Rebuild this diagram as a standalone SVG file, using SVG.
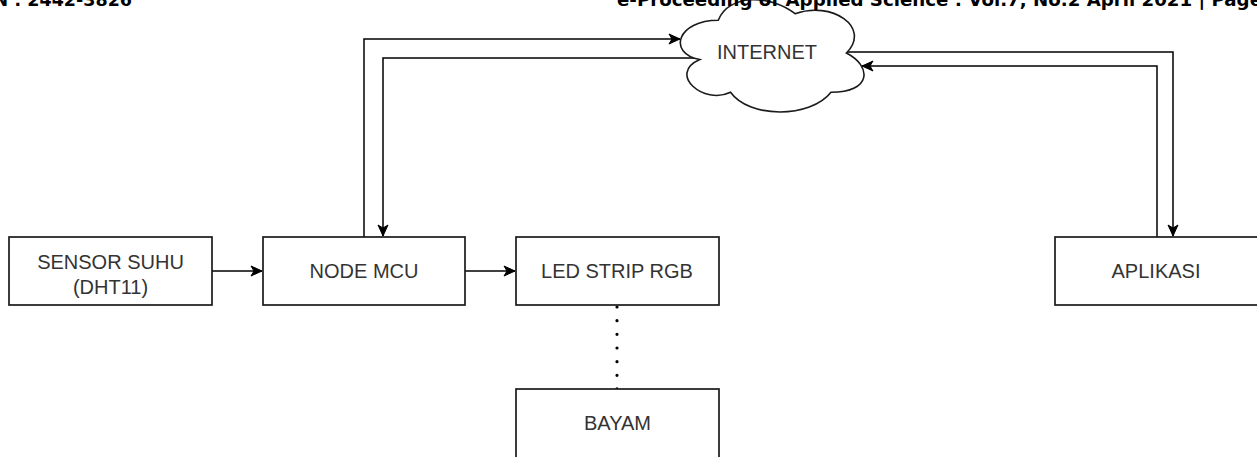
<svg xmlns="http://www.w3.org/2000/svg" width="1257" height="457" viewBox="0 0 1257 457">
<style>
.box{fill:#ffffff;stroke:#1a1a1a;stroke-width:1.7}
.lbl{font-family:"Liberation Sans",Arial,sans-serif;font-size:20px;fill:#333333;text-anchor:middle}
.hdr{font-family:"DejaVu Sans",Verdana,sans-serif;font-weight:bold;font-size:17.5px;fill:#000000}
.con{fill:none;stroke:#000000;stroke-width:1.5}
.dot{fill:none;stroke:#000000;stroke-width:3.2;stroke-linecap:round;stroke-dasharray:0 13.66}
</style>
<defs>
<marker id="arr" viewBox="-12 -6 13 12" refX="0" refY="0" markerWidth="13" markerHeight="12" markerUnits="userSpaceOnUse" orient="auto">
<path d="M0,0 L-11,-5 L-8,0 L-11,5 Z" fill="#000000" stroke="#000000" stroke-width="1"/>
</marker>
</defs>
<rect width="1257" height="457" fill="#ffffff"/>
<g id="connectors">
<path class="con" d="M364,237 V39 H680" marker-end="url(#arr)"/>
<path class="con" d="M700,58 H383 V236" marker-end="url(#arr)"/>
<path class="con" d="M846,52 H1173 V236" marker-end="url(#arr)"/>
<path class="con" d="M1157,237 V66 H862" marker-end="url(#arr)"/>
<path class="con" d="M212,271 H262" marker-end="url(#arr)"/>
<path class="con" d="M465,271 H515" marker-end="url(#arr)"/>
<path class="dot" d="M617,307 V389"/>
</g>
<g id="internet">
<path d="M718.25,20.25 C677.25,20.25 667,53 699.8,59.55 C667,73.96 703.9,105.4 730.55,92.3 C749,118.5 810.5,118.5 831,92.3 C872,92.3 872,66.1 846.4,53 C872,26.8 831,0.6 795.1,13.7 C769.5,-5.95 728.5,-5.95 718.25,20.25 Z" fill="#ffffff" stroke="#1a1a1a" stroke-width="1.6"/>
<text class="lbl" x="767" y="59">INTERNET</text>
</g>
<g id="sensor">
<rect class="box" x="9" y="237" width="203" height="68"/>
<text class="lbl" x="110.5" y="269">SENSOR SUHU</text>
<text class="lbl" x="110.5" y="294">(DHT11)</text>
</g>
<g id="nodemcu">
<rect class="box" x="263" y="237" width="202" height="68"/>
<text class="lbl" x="364" y="278">NODE MCU</text>
</g>
<g id="ledstrip">
<rect class="box" x="516" y="237" width="203" height="68"/>
<text class="lbl" x="617" y="278">LED STRIP RGB</text>
</g>
<g id="bayam">
<rect class="box" x="516" y="389" width="203" height="72"/>
<text class="lbl" x="617.5" y="430">BAYAM</text>
</g>
<g id="aplikasi">
<rect class="box" x="1055" y="237" width="206" height="68"/>
<text class="lbl" x="1156" y="278">APLIKASI</text>
</g>
<g id="header">
<text class="hdr" x="132" y="5.5" text-anchor="end">ISSN : 2442-3826</text>
<text class="hdr" x="617" y="5.5" textLength="645" lengthAdjust="spacingAndGlyphs">e-Proceeding of Applied Science : Vol.7, No.2 April 2021 | Page</text>
</g>
</svg>
